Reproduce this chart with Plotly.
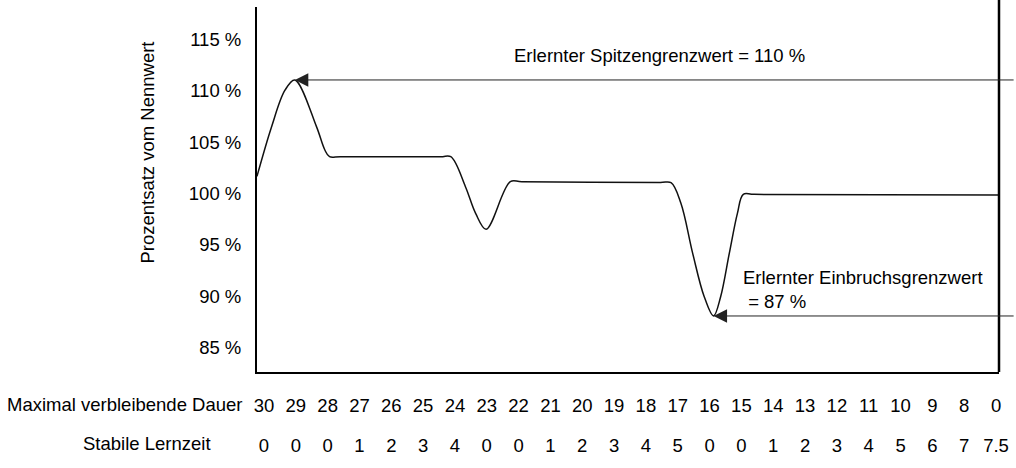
import plotly.graph_objects as go

# Column labels of the two table rows under the time axis
remaining_duration = ["30", "29", "28", "27", "26", "25", "24", "23", "22", "21", "20", "19",
                      "18", "17", "16", "15", "14", "13", "12", "11", "10", "9", "8", "0"]
stable_learning = ["0", "0", "0", "1", "2", "3", "4", "0", "0", "1", "2", "3",
                   "4", "5", "0", "0", "1", "2", "3", "4", "5", "6", "7", "7.5"]

# Measured signal in percent of nominal, x given in column units
curve_pos = [-0.22, 0.24, 0.66, 0.97, 1.65, 1.91, 2.06, 2.4, 5.55, 5.87,
             6.33, 6.65, 6.98, 7.74, 8.1, 12.45, 12.79,
             13.10, 13.47, 13.83, 14.125, 14.35, 14.62, 14.875, 15.06, 15.4, 23.09]
curve_pct = [100.6, 105.45, 109.0, 110.0, 105.45, 103.2, 102.52, 102.52, 102.52, 102.52,
             99.6, 97.0, 95.45, 100.09, 100.08, 100.0, 99.99,
             97.98, 93.1, 88.9, 87.0, 88.9, 93.1, 97.0, 98.86, 98.85, 98.79]

pct_ticks = [85, 90, 95, 100, 105, 110, 115]
pct_labels = [f"{v} %" for v in pct_ticks]

# Learned limits: the highest peak and the deepest dip of the curve
peak_limit = max(curve_pct)
dip_limit = min(curve_pct)
peak_pos = curve_pos[curve_pct.index(peak_limit)]
dip_pos = curve_pos[curve_pct.index(dip_limit)]
limit_tail_pos = 23.6

FONT = "Liberation Sans, Arial, sans-serif"
FS = 18.5
positions = list(range(len(remaining_duration)))

fig = go.Figure()
fig.add_trace(go.Scatter(
    x=curve_pos, y=curve_pct, mode="lines",
    line=dict(color="#111111", width=1.5, shape="spline", smoothing=1),
    showlegend=False, hoverinfo="skip",
))
# carrier trace for the second label row
fig.add_trace(go.Scatter(
    x=positions, y=[None] * len(positions), xaxis="x2", mode="lines",
    showlegend=False, hoverinfo="skip",
))

for pos, val in ((peak_pos, peak_limit), (dip_pos, dip_limit)):
    fig.add_annotation(
        x=pos, y=val, xref="x", yref="y",
        ax=limit_tail_pos, ay=val, axref="x", ayref="y",
        text="", showarrow=True, arrowhead=2, arrowsize=2.7, arrowwidth=1,
        arrowcolor="#222222",
    )

fig.add_annotation(
    x=(513 - 257) / 746, y=0.868, xref="paper", yref="paper",
    xanchor="left", yanchor="middle", showarrow=False,
    text=f"Erlernter Spitzengrenzwert = {peak_limit:g} %",
    font=dict(family=FONT, size=FS, color="#000000"),
)
fig.add_annotation(
    x=(744 - 257) / 746, y=0.227, xref="paper", yref="paper",
    xanchor="left", yanchor="middle", showarrow=False, align="left",
    text=f"Erlernter Einbruchsgrenzwert<br>\u00a0= {dip_limit:g} %",
    font=dict(family=FONT, size=FS, color="#000000"),
)
fig.add_annotation(
    x=(146 - 257) / 746, y=0.6, xref="paper", yref="paper",
    xanchor="center", yanchor="middle", showarrow=False, textangle=-90,
    text="Prozentsatz vom Nennwert",
    font=dict(family=FONT, size=FS, color="#000000"),
)
fig.add_annotation(
    x=(244 - 257) / 746, y=-0.09, xref="paper", yref="paper",
    xanchor="right", yanchor="middle", showarrow=False,
    text="Maximal verbleibende Dauer",
    font=dict(family=FONT, size=FS, color="#000000"),
)
fig.add_annotation(
    x=(213 - 257) / 746, y=-0.196, xref="paper", yref="paper",
    xanchor="right", yanchor="middle", showarrow=False,
    text="Stabile Lernzeit",
    font=dict(family=FONT, size=FS, color="#000000"),
)

# right-hand border line
fig.add_shape(type="line", xref="paper", yref="paper", x0=1, x1=1, y0=0, y1=372 / 365,
              line=dict(color="#000000", width=2.5))

fig.update_layout(
    width=1016, height=468,
    margin=dict(l=257, r=13, t=7, b=96),
    paper_bgcolor="white", plot_bgcolor="white",
    font=dict(family=FONT, size=FS, color="#000000"),
    xaxis=dict(
        range=[-0.21875, 23.09375], tickmode="array", tickvals=positions,
        ticktext=remaining_duration, showgrid=False, zeroline=False,
        showline=True, linecolor="#000000", linewidth=2, ticks="",
        ticklabelstandoff=16, tickfont=dict(size=FS),
    ),
    xaxis2=dict(
        overlaying="x", matches="x", anchor="y", side="bottom",
        tickmode="array", tickvals=positions, ticktext=stable_learning,
        showgrid=False, zeroline=False, showline=False, ticks="",
        ticklabelstandoff=60, tickfont=dict(size=FS),
    ),
    yaxis=dict(
        range=[81.54, 117.11], tickmode="array", tickvals=pct_ticks,
        ticktext=pct_labels, showgrid=False, zeroline=False,
        showline=True, linecolor="#000000", linewidth=2, ticks="",
        ticklabelstandoff=10, ticklabelshift=11, tickfont=dict(size=FS),
    ),
)

fig.write_html("out.html")
